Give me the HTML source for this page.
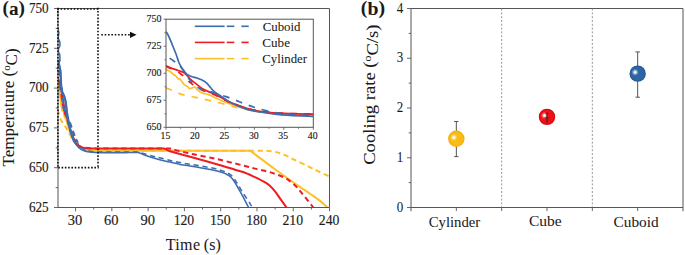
<!DOCTYPE html>
<html><head><meta charset="utf-8"><style>
html,body{margin:0;padding:0;background:#fff;}
svg{display:block;}
text{font-family:"Liberation Serif",serif;fill:#1a1a1a;stroke:#1a1a1a;stroke-width:0.05px;} .hv{stroke-width:0.15px;} .hv2{stroke-width:0.15px;}
</style></head><body>
<svg width="685" height="255" viewBox="0 0 685 255">
<defs><radialGradient id="gy" cx="0.5" cy="0.5" r="0.5"><stop offset="0" stop-color="#fbbc16"/><stop offset="0.75" stop-color="#fbbc16"/><stop offset="1" stop-color="#f2aa00"/></radialGradient><radialGradient id="gr" cx="0.5" cy="0.5" r="0.5"><stop offset="0" stop-color="#ee1118"/><stop offset="0.75" stop-color="#ee1118"/><stop offset="1" stop-color="#d4000c"/></radialGradient><radialGradient id="gb" cx="0.5" cy="0.5" r="0.5"><stop offset="0" stop-color="#2d66a4"/><stop offset="0.75" stop-color="#2d66a4"/><stop offset="1" stop-color="#235890"/></radialGradient><radialGradient id="hl" cx="0.5" cy="0.5" r="0.5"><stop offset="0" stop-color="#fff" stop-opacity="1"/><stop offset="0.3" stop-color="#fff" stop-opacity="0.85"/><stop offset="0.65" stop-color="#fff" stop-opacity="0.3"/><stop offset="1" stop-color="#fff" stop-opacity="0"/></radialGradient></defs>
<rect x="0" y="0" width="685" height="255" fill="#fff"/>
<clipPath id="cm"><rect x="58.0" y="8.5" width="271.5" height="199.0"/></clipPath>
<clipPath id="csteep"><rect x="58" y="60" width="40" height="82"/></clipPath>
<g clip-path="url(#cm)" fill="none" stroke-linejoin="round">
<path d="M57.36,109.68 C57.56,110.24 58.14,111.71 58.59,113.06 C59.04,114.41 59.54,116.43 60.05,117.78 C60.56,119.13 61.12,120.23 61.65,121.16 C62.18,122.10 62.76,122.71 63.23,123.37 C63.70,124.03 63.91,124.30 64.44,125.14 C64.97,125.97 65.76,127.25 66.43,128.38 C67.11,129.51 67.70,130.46 68.49,131.91 C69.27,133.36 70.30,135.55 71.15,137.07 C72.01,138.59 72.69,139.82 73.62,141.04 C74.54,142.27 75.50,143.30 76.70,144.43 C77.89,145.56 78.98,146.81 80.80,147.82 C82.63,148.82 85.16,149.99 87.64,150.47 C90.11,150.95 92.64,150.66 95.64,150.70 C98.64,150.74 102.30,150.70 105.64,150.70 C108.97,150.70 112.30,150.70 115.64,150.70 C118.97,150.70 122.30,150.70 125.64,150.70 C128.97,150.70 132.30,150.70 135.64,150.70 C138.97,150.70 142.30,150.70 145.64,150.70 C148.97,150.70 152.30,150.70 155.64,150.70 C158.97,150.70 162.30,150.70 165.64,150.70 C168.97,150.70 172.30,150.70 175.64,150.70 C178.97,150.70 182.30,150.70 185.64,150.70 C188.97,150.70 192.30,150.70 195.64,150.70 C198.97,150.70 202.30,150.70 205.64,150.70 C208.97,150.70 212.30,150.70 215.64,150.70 C218.97,150.70 222.30,150.70 225.64,150.70 C228.97,150.70 232.30,150.70 235.64,150.70 C238.97,150.70 241.63,150.70 245.64,150.70 C249.65,150.70 255.77,150.66 259.70,150.70 C263.63,150.74 266.25,150.67 269.20,150.95 C272.15,151.23 274.67,151.68 277.40,152.40 C280.13,153.12 282.67,154.03 285.60,155.30 C288.53,156.57 291.07,158.07 295.00,160.00 C298.93,161.93 305.28,165.00 309.20,166.90 C313.12,168.80 315.12,169.78 318.50,171.40 C321.88,173.02 326.58,175.12 329.50,176.60 C332.42,178.08 334.92,179.68 336.00,180.30" stroke="#fdc02a" stroke-width="2.0" stroke-dasharray="5.2,3.7" stroke-dashoffset="8.81"/>
<path d="M57.36,81.55 C57.43,81.94 57.63,83.07 57.81,83.90 C57.99,84.74 58.24,85.55 58.43,86.55 C58.61,87.56 58.78,89.06 58.94,89.94 C59.10,90.82 59.25,91.14 59.37,91.86 C59.49,92.57 59.56,93.40 59.66,94.21 C59.76,95.02 59.86,96.35 59.97,96.72 C60.07,97.08 60.15,95.81 60.27,96.42 C60.39,97.03 60.55,99.02 60.68,100.40 C60.82,101.77 60.96,103.64 61.10,104.67 C61.23,105.70 61.37,105.99 61.51,106.58 C61.64,107.17 61.80,107.52 61.92,108.20 C62.04,108.89 62.10,110.41 62.22,110.71 C62.34,111.00 62.50,110.26 62.63,109.97 C62.77,109.68 62.93,109.18 63.05,108.94 C63.16,108.69 63.23,108.03 63.35,108.50 C63.47,108.96 63.63,110.73 63.76,111.74 C63.90,112.74 64.04,113.73 64.17,114.54 C64.31,115.35 64.42,116.06 64.58,116.60 C64.75,117.14 64.90,117.28 65.16,117.78 C65.42,118.27 65.82,118.78 66.12,119.54 C66.43,120.30 66.52,120.84 66.97,122.34 C67.41,123.84 68.19,126.64 68.79,128.53 C69.40,130.42 69.97,132.04 70.60,133.68 C71.23,135.32 71.92,137.02 72.59,138.39 C73.26,139.77 73.79,140.72 74.64,141.93 C75.50,143.13 76.70,144.60 77.72,145.61 C78.75,146.62 79.78,147.30 80.80,147.97 C81.83,148.63 82.74,149.17 83.88,149.59 C85.02,150.00 85.68,150.28 87.64,150.47 C89.60,150.66 92.64,150.66 95.64,150.70 C98.64,150.74 102.30,150.70 105.64,150.70 C108.97,150.70 112.30,150.70 115.64,150.70 C118.97,150.70 122.30,150.70 125.64,150.70 C128.97,150.70 132.30,150.70 135.64,150.70 C138.97,150.70 142.30,150.70 145.64,150.70 C148.97,150.70 152.30,150.70 155.64,150.70 C158.97,150.70 162.30,150.70 165.64,150.70 C168.97,150.70 172.30,150.70 175.64,150.70 C178.97,150.70 182.30,150.70 185.64,150.70 C188.97,150.70 192.30,150.70 195.64,150.70 C198.97,150.70 202.30,150.70 205.64,150.70 C208.97,150.70 212.30,150.70 215.64,150.70 C218.97,150.70 221.58,150.70 225.64,150.70 C229.70,150.70 235.89,150.70 240.00,150.70 C244.11,150.70 248.58,150.70 250.30,150.70 C252.25,152.18 257.88,156.52 262.00,159.60 C266.12,162.68 269.50,165.22 275.00,169.20 C280.50,173.18 289.05,179.33 295.00,183.50 C300.95,187.67 306.52,191.30 310.70,194.20 C314.88,197.10 317.32,198.68 320.10,200.90 C322.88,203.12 325.58,205.85 327.40,207.50 C329.22,209.15 330.40,210.25 331.00,210.80" stroke="#fdc02a" stroke-width="2.0"/>
<path d="M57.36,77.86 C57.56,78.48 58.19,80.27 58.59,81.55 C58.99,82.82 59.45,84.20 59.76,85.52 C60.08,86.85 60.27,88.35 60.48,89.50 C60.69,90.65 60.71,90.43 61.01,92.44 C61.32,94.46 61.94,99.27 62.31,101.58 C62.68,103.88 62.80,104.32 63.23,106.29 C63.66,108.25 64.43,111.74 64.91,113.36 C65.40,114.98 65.67,114.76 66.12,116.01 C66.58,117.26 66.93,118.32 67.66,120.87 C68.40,123.42 69.37,128.01 70.54,131.32 C71.70,134.64 73.27,138.39 74.64,140.75 C76.01,143.11 77.38,144.36 78.75,145.46 C80.12,146.57 81.37,146.96 82.85,147.38 C84.34,147.79 85.51,147.76 87.64,147.97 C89.77,148.17 92.64,148.49 95.64,148.60 C98.64,148.71 102.30,148.60 105.64,148.60 C108.97,148.60 112.30,148.60 115.64,148.60 C118.97,148.60 122.30,148.60 125.64,148.60 C128.97,148.60 132.30,148.60 135.64,148.60 C138.97,148.60 142.30,148.60 145.64,148.60 C148.97,148.60 151.58,148.60 155.64,148.60 C159.70,148.60 166.77,148.37 170.00,148.60 C173.23,148.83 172.50,149.37 175.00,150.00 C177.50,150.63 181.67,151.63 185.00,152.40 C188.33,153.17 190.00,153.57 195.00,154.60 C200.00,155.63 208.33,157.12 215.00,158.60 C221.67,160.08 229.70,162.18 235.00,163.50 C240.30,164.82 243.47,165.65 246.80,166.50 C250.13,167.35 252.00,167.88 255.00,168.60 C258.00,169.32 261.53,169.95 264.80,170.80 C268.07,171.65 271.33,172.57 274.60,173.70 C277.87,174.83 281.78,176.32 284.40,177.60 C287.02,178.88 288.33,179.92 290.30,181.40 C292.27,182.88 294.42,184.70 296.20,186.50 C297.98,188.30 299.20,190.03 301.00,192.20 C302.80,194.37 304.93,196.95 307.00,199.50 C309.07,202.05 311.87,205.58 313.40,207.50 C314.93,209.42 315.73,210.42 316.20,211.00" stroke="#ee1d23" stroke-width="2.0" stroke-dasharray="5.2,3.7" stroke-dashoffset="0.87"/>
<path d="M57.36,76.83 C57.56,77.47 58.17,79.46 58.59,80.66 C59.01,81.87 59.48,82.97 59.88,84.05 C60.29,85.13 60.73,86.04 61.01,87.14 C61.30,88.25 61.36,88.96 61.61,90.68 C61.86,92.40 62.16,95.14 62.51,97.45 C62.86,99.76 63.32,102.26 63.72,104.52 C64.12,106.78 64.51,109.23 64.91,111.00 C65.31,112.77 65.68,113.70 66.12,115.12 C66.57,116.55 67.14,118.02 67.58,119.54 C68.03,121.06 68.29,122.34 68.79,124.26 C69.30,126.17 69.94,128.97 70.60,131.03 C71.26,133.09 71.93,134.61 72.78,136.63 C73.62,138.64 74.67,141.53 75.67,143.11 C76.67,144.68 77.55,145.29 78.75,146.05 C79.95,146.81 81.37,147.28 82.85,147.67 C84.34,148.06 85.51,148.27 87.64,148.41 C89.77,148.55 92.64,148.48 95.64,148.50 C98.64,148.52 102.30,148.50 105.64,148.50 C108.97,148.50 112.30,148.50 115.64,148.50 C118.97,148.50 122.30,148.50 125.64,148.50 C128.97,148.50 132.30,148.50 135.64,148.50 C138.97,148.50 142.30,148.50 145.64,148.50 C148.97,148.50 152.66,148.50 155.64,148.50 C158.61,148.50 161.69,148.32 163.50,148.50 C165.31,148.68 165.52,149.18 166.50,149.60 C167.48,150.02 167.93,150.47 169.40,151.00 C170.87,151.53 170.20,151.38 175.30,152.80 C180.40,154.22 192.22,157.35 200.00,159.50 C207.78,161.65 216.17,164.00 222.00,165.70 C227.83,167.40 231.47,168.65 235.00,169.70 C238.53,170.75 240.08,170.85 243.20,172.00 C246.32,173.15 250.43,175.08 253.70,176.60 C256.97,178.12 260.15,179.62 262.80,181.10 C265.45,182.58 267.43,183.62 269.60,185.50 C271.77,187.38 273.87,189.95 275.80,192.40 C277.73,194.85 279.40,197.68 281.20,200.20 C283.00,202.72 285.27,205.70 286.60,207.50 C287.93,209.30 288.77,210.42 289.20,211.00" stroke="#ee1d23" stroke-width="2.0"/>
<path d="M57.36,61.96 C57.55,62.92 58.12,65.74 58.51,67.70 C58.90,69.67 59.41,71.97 59.72,73.74 C60.03,75.51 60.16,76.66 60.38,78.31 C60.59,79.95 60.79,81.67 60.99,83.61 C61.20,85.55 61.40,87.58 61.61,89.94 C61.82,92.30 61.97,95.02 62.27,97.75 C62.56,100.47 62.95,103.98 63.35,106.29 C63.76,108.60 64.23,110.24 64.69,111.59 C65.15,112.94 65.64,113.38 66.12,114.39 C66.61,115.39 67.19,116.72 67.58,117.63 C67.98,118.54 68.13,119.03 68.49,119.84 C68.84,120.65 69.27,121.41 69.72,122.49 C70.16,123.57 70.67,124.99 71.15,126.32 C71.63,127.64 72.11,129.07 72.59,130.44 C73.07,131.81 73.55,133.29 74.03,134.56 C74.51,135.84 74.95,136.92 75.46,138.10 C75.98,139.28 76.39,140.33 77.11,141.63 C77.83,142.93 78.82,144.75 79.78,145.90 C80.73,147.06 81.54,147.79 82.85,148.55 C84.16,149.32 85.51,149.90 87.64,150.47 C89.77,151.04 92.64,151.74 95.64,152.00 C98.64,152.26 102.30,152.00 105.64,152.00 C108.97,152.00 112.30,152.00 115.64,152.00 C118.97,152.00 121.98,152.00 125.64,152.00 C129.30,152.00 135.04,151.85 137.60,152.00 C140.16,152.15 139.62,152.53 141.00,152.90 C142.38,153.27 143.52,153.55 145.90,154.20 C148.28,154.85 151.78,155.90 155.30,156.80 C158.82,157.70 162.88,158.63 167.00,159.60 C171.12,160.57 175.33,161.70 180.00,162.60 C184.67,163.50 189.17,164.00 195.00,165.00 C200.83,166.00 210.50,167.63 215.00,168.60 C219.50,169.57 220.00,170.13 222.00,170.80 C224.00,171.47 225.50,171.87 227.00,172.60 C228.50,173.33 229.75,174.10 231.00,175.20 C232.25,176.30 233.33,177.63 234.50,179.20 C235.67,180.77 236.55,182.27 238.00,184.60 C239.45,186.93 241.17,190.00 243.20,193.20 C245.23,196.40 248.73,201.42 250.20,203.80 C251.67,206.18 251.43,206.30 252.00,207.50 C252.57,208.70 253.33,210.42 253.60,211.00" stroke="#3b6db0" stroke-width="1.55" stroke-dasharray="5.2,3.7" stroke-dashoffset="0.00"/>
<path d="M57.36,61.96 C57.55,62.92 58.12,65.74 58.51,67.70 C58.90,69.67 59.41,71.97 59.72,73.74 C60.03,75.51 60.16,76.66 60.38,78.31 C60.59,79.95 60.79,81.67 60.99,83.61 C61.20,85.55 61.40,87.58 61.61,89.94 C61.82,92.30 61.97,95.02 62.27,97.75 C62.56,100.47 62.95,103.98 63.35,106.29 C63.76,108.60 64.23,110.24 64.69,111.59 C65.15,112.94 65.64,113.38 66.12,114.39 C66.61,115.39 67.19,116.72 67.58,117.63 C67.98,118.54 68.13,119.03 68.49,119.84 C68.84,120.65 69.27,121.41 69.72,122.49 C70.16,123.57 70.67,124.99 71.15,126.32 C71.63,127.64 72.11,129.07 72.59,130.44 C73.07,131.81 73.55,133.29 74.03,134.56 C74.51,135.84 74.95,136.92 75.46,138.10 C75.98,139.28 76.39,140.33 77.11,141.63 C77.83,142.93 78.82,144.75 79.78,145.90 C80.73,147.06 81.54,147.79 82.85,148.55 C84.16,149.32 85.51,149.90 87.64,150.47 C89.77,151.04 92.64,151.74 95.64,152.00 C98.64,152.26 102.30,152.00 105.64,152.00 C108.97,152.00 112.30,152.00 115.64,152.00 C118.97,152.00 121.98,152.00 125.64,152.00 C129.30,152.00 135.04,151.85 137.60,152.00 C140.16,152.15 139.62,152.53 141.00,152.90 C142.38,153.27 143.52,153.55 145.90,154.20 C148.28,154.85 151.78,155.90 155.30,156.80 C158.82,157.70 162.88,158.63 167.00,159.60 C171.12,160.57 175.33,161.70 180.00,162.60 C184.67,163.50 189.17,164.00 195.00,165.00 C200.83,166.00 210.50,167.63 215.00,168.60 C219.50,169.57 220.00,170.13 222.00,170.80 C224.00,171.47 225.50,171.87 227.00,172.60 C228.50,173.33 229.75,174.10 231.00,175.20 C232.25,176.30 233.33,177.63 234.50,179.20 C235.67,180.77 236.55,182.27 238.00,184.60 C239.45,186.93 241.17,190.00 243.20,193.20 C245.23,196.40 248.73,201.42 250.20,203.80 C251.67,206.18 251.43,206.30 252.00,207.50 C252.57,208.70 253.33,210.42 253.60,211.00" stroke="#3b6db0" stroke-width="2.3" clip-path="url(#csteep)" stroke-dasharray="5.2,3.7" stroke-dashoffset="0.00"/>
<path d="M57.90,27.50 C57.97,28.00 58.13,29.58 58.30,30.50 C58.47,31.42 58.88,32.08 58.90,33.00 C58.92,33.92 58.48,35.00 58.40,36.00 C58.32,37.00 58.18,38.08 58.40,39.00 C58.62,39.92 59.47,40.33 59.70,41.50 C59.93,42.67 60.00,44.75 59.80,46.00 C59.60,47.25 58.73,48.00 58.50,49.00 C58.27,50.00 58.20,51.08 58.40,52.00 C58.60,52.92 59.47,53.25 59.70,54.50 C59.93,55.75 59.95,58.17 59.80,59.50 C59.65,60.83 58.87,61.42 58.80,62.50 C58.73,63.58 59.13,64.58 59.40,66.00 C59.67,67.42 60.20,69.33 60.40,71.00 C60.60,72.67 60.50,74.33 60.60,76.00 C60.70,77.67 60.96,79.88 61.00,81.00 C61.04,82.12 60.78,81.65 60.85,82.72 C60.92,83.80 61.21,86.04 61.40,87.44 C61.60,88.84 61.79,90.14 62.02,91.12 C62.24,92.10 62.47,92.67 62.76,93.33 C63.04,93.99 63.40,94.36 63.72,95.10 C64.04,95.83 64.37,96.59 64.69,97.75 C65.01,98.90 65.37,100.35 65.65,102.02 C65.93,103.69 66.13,105.82 66.37,107.76 C66.61,109.70 66.81,111.76 67.09,113.65 C67.37,115.54 67.74,117.38 68.07,119.10 C68.41,120.82 68.76,122.32 69.10,123.96 C69.44,125.61 69.70,127.15 70.13,128.97 C70.56,130.78 71.00,132.75 71.69,134.86 C72.37,136.97 73.40,139.91 74.23,141.63 C75.07,143.35 75.77,144.04 76.70,145.17 C77.62,146.30 78.75,147.57 79.78,148.41 C80.80,149.24 81.54,149.63 82.85,150.17 C84.16,150.71 85.51,151.24 87.64,151.65 C89.77,152.05 92.64,152.44 95.64,152.60 C98.64,152.76 102.30,152.60 105.64,152.60 C108.97,152.60 112.30,152.60 115.64,152.60 C118.97,152.60 121.98,152.60 125.64,152.60 C129.30,152.60 135.04,152.43 137.60,152.60 C140.16,152.77 139.62,153.12 141.00,153.60 C142.38,154.08 143.52,154.68 145.90,155.50 C148.28,156.32 151.78,157.50 155.30,158.50 C158.82,159.50 162.88,160.52 167.00,161.50 C171.12,162.48 175.33,163.52 180.00,164.40 C184.67,165.28 189.17,165.78 195.00,166.80 C200.83,167.82 210.50,169.55 215.00,170.50 C219.50,171.45 220.08,171.88 222.00,172.50 C223.92,173.12 225.08,173.48 226.50,174.20 C227.92,174.92 229.25,175.67 230.50,176.80 C231.75,177.93 232.92,179.47 234.00,181.00 C235.08,182.53 235.92,184.13 237.00,186.00 C238.08,187.87 239.18,189.82 240.50,192.20 C241.82,194.58 243.55,197.75 244.90,200.30 C246.25,202.85 247.72,205.72 248.60,207.50 C249.48,209.28 249.93,210.42 250.20,211.00" stroke="#3b6db0" stroke-width="1.55"/>
<path d="M57.90,27.50 C57.97,28.00 58.13,29.58 58.30,30.50 C58.47,31.42 58.88,32.08 58.90,33.00 C58.92,33.92 58.48,35.00 58.40,36.00 C58.32,37.00 58.18,38.08 58.40,39.00 C58.62,39.92 59.47,40.33 59.70,41.50 C59.93,42.67 60.00,44.75 59.80,46.00 C59.60,47.25 58.73,48.00 58.50,49.00 C58.27,50.00 58.20,51.08 58.40,52.00 C58.60,52.92 59.47,53.25 59.70,54.50 C59.93,55.75 59.95,58.17 59.80,59.50 C59.65,60.83 58.87,61.42 58.80,62.50 C58.73,63.58 59.13,64.58 59.40,66.00 C59.67,67.42 60.20,69.33 60.40,71.00 C60.60,72.67 60.50,74.33 60.60,76.00 C60.70,77.67 60.96,79.88 61.00,81.00 C61.04,82.12 60.78,81.65 60.85,82.72 C60.92,83.80 61.21,86.04 61.40,87.44 C61.60,88.84 61.79,90.14 62.02,91.12 C62.24,92.10 62.47,92.67 62.76,93.33 C63.04,93.99 63.40,94.36 63.72,95.10 C64.04,95.83 64.37,96.59 64.69,97.75 C65.01,98.90 65.37,100.35 65.65,102.02 C65.93,103.69 66.13,105.82 66.37,107.76 C66.61,109.70 66.81,111.76 67.09,113.65 C67.37,115.54 67.74,117.38 68.07,119.10 C68.41,120.82 68.76,122.32 69.10,123.96 C69.44,125.61 69.70,127.15 70.13,128.97 C70.56,130.78 71.00,132.75 71.69,134.86 C72.37,136.97 73.40,139.91 74.23,141.63 C75.07,143.35 75.77,144.04 76.70,145.17 C77.62,146.30 78.75,147.57 79.78,148.41 C80.80,149.24 81.54,149.63 82.85,150.17 C84.16,150.71 85.51,151.24 87.64,151.65 C89.77,152.05 92.64,152.44 95.64,152.60 C98.64,152.76 102.30,152.60 105.64,152.60 C108.97,152.60 112.30,152.60 115.64,152.60 C118.97,152.60 121.98,152.60 125.64,152.60 C129.30,152.60 135.04,152.43 137.60,152.60 C140.16,152.77 139.62,153.12 141.00,153.60 C142.38,154.08 143.52,154.68 145.90,155.50 C148.28,156.32 151.78,157.50 155.30,158.50 C158.82,159.50 162.88,160.52 167.00,161.50 C171.12,162.48 175.33,163.52 180.00,164.40 C184.67,165.28 189.17,165.78 195.00,166.80 C200.83,167.82 210.50,169.55 215.00,170.50 C219.50,171.45 220.08,171.88 222.00,172.50 C223.92,173.12 225.08,173.48 226.50,174.20 C227.92,174.92 229.25,175.67 230.50,176.80 C231.75,177.93 232.92,179.47 234.00,181.00 C235.08,182.53 235.92,184.13 237.00,186.00 C238.08,187.87 239.18,189.82 240.50,192.20 C241.82,194.58 243.55,197.75 244.90,200.30 C246.25,202.85 247.72,205.72 248.60,207.50 C249.48,209.28 249.93,210.42 250.20,211.00" stroke="#3b6db0" stroke-width="2.3" clip-path="url(#csteep)"/>
</g>
<line x1="58.0" y1="8.5" x2="329.5" y2="8.5" stroke="#555" stroke-width="1"/>
<line x1="329.5" y1="8.5" x2="329.5" y2="207.5" stroke="#555" stroke-width="1"/>
<line x1="58.0" y1="207.5" x2="329.5" y2="207.5" stroke="#555" stroke-width="1"/>
<line x1="58.0" y1="8.5" x2="58.0" y2="207.5" stroke="#555" stroke-width="1"/>
<line x1="75.54" y1="207.5" x2="75.54" y2="211.3" stroke="#555" stroke-width="0.9"/>
<line x1="111.83" y1="207.5" x2="111.83" y2="211.3" stroke="#555" stroke-width="0.9"/>
<line x1="148.11" y1="207.5" x2="148.11" y2="211.3" stroke="#555" stroke-width="0.9"/>
<line x1="184.40" y1="207.5" x2="184.40" y2="211.3" stroke="#555" stroke-width="0.9"/>
<line x1="220.68" y1="207.5" x2="220.68" y2="211.3" stroke="#555" stroke-width="0.9"/>
<line x1="256.97" y1="207.5" x2="256.97" y2="211.3" stroke="#555" stroke-width="0.9"/>
<line x1="293.25" y1="207.5" x2="293.25" y2="211.3" stroke="#555" stroke-width="0.9"/>
<line x1="329.54" y1="207.5" x2="329.54" y2="211.3" stroke="#555" stroke-width="0.9"/>
<line x1="93.69" y1="207.5" x2="93.69" y2="209.5" stroke="#555" stroke-width="0.9"/>
<line x1="129.97" y1="207.5" x2="129.97" y2="209.5" stroke="#555" stroke-width="0.9"/>
<line x1="166.25" y1="207.5" x2="166.25" y2="209.5" stroke="#555" stroke-width="0.9"/>
<line x1="202.54" y1="207.5" x2="202.54" y2="209.5" stroke="#555" stroke-width="0.9"/>
<line x1="238.83" y1="207.5" x2="238.83" y2="209.5" stroke="#555" stroke-width="0.9"/>
<line x1="275.11" y1="207.5" x2="275.11" y2="209.5" stroke="#555" stroke-width="0.9"/>
<line x1="311.39" y1="207.5" x2="311.39" y2="209.5" stroke="#555" stroke-width="0.9"/>
<line x1="54.0" y1="207.50" x2="58.0" y2="207.50" stroke="#555" stroke-width="0.9"/>
<line x1="54.0" y1="167.70" x2="58.0" y2="167.70" stroke="#555" stroke-width="0.9"/>
<line x1="54.0" y1="127.90" x2="58.0" y2="127.90" stroke="#555" stroke-width="0.9"/>
<line x1="54.0" y1="88.10" x2="58.0" y2="88.10" stroke="#555" stroke-width="0.9"/>
<line x1="54.0" y1="48.30" x2="58.0" y2="48.30" stroke="#555" stroke-width="0.9"/>
<line x1="54.0" y1="8.50" x2="58.0" y2="8.50" stroke="#555" stroke-width="0.9"/>
<line x1="55.7" y1="187.60" x2="58.0" y2="187.60" stroke="#555" stroke-width="0.9"/>
<line x1="55.7" y1="147.80" x2="58.0" y2="147.80" stroke="#555" stroke-width="0.9"/>
<line x1="55.7" y1="108.00" x2="58.0" y2="108.00" stroke="#555" stroke-width="0.9"/>
<line x1="55.7" y1="68.20" x2="58.0" y2="68.20" stroke="#555" stroke-width="0.9"/>
<line x1="55.7" y1="28.40" x2="58.0" y2="28.40" stroke="#555" stroke-width="0.9"/>
<text x="28.90" y="211.80" font-size="14.2" textLength="19.80" lengthAdjust="spacingAndGlyphs" class="hv">625</text>
<text x="28.90" y="172.00" font-size="14.2" textLength="19.80" lengthAdjust="spacingAndGlyphs" class="hv">650</text>
<text x="28.90" y="132.20" font-size="14.2" textLength="19.80" lengthAdjust="spacingAndGlyphs" class="hv">675</text>
<text x="28.90" y="92.40" font-size="14.2" textLength="19.80" lengthAdjust="spacingAndGlyphs" class="hv">700</text>
<text x="28.90" y="52.60" font-size="14.2" textLength="19.80" lengthAdjust="spacingAndGlyphs" class="hv">725</text>
<text x="28.90" y="12.80" font-size="14.2" textLength="19.80" lengthAdjust="spacingAndGlyphs" class="hv">750</text>
<text x="67.84" y="225.00" font-size="14.2" textLength="14.50" lengthAdjust="spacingAndGlyphs" class="hv">30</text>
<text x="104.13" y="225.00" font-size="14.2" textLength="14.50" lengthAdjust="spacingAndGlyphs" class="hv">60</text>
<text x="140.41" y="225.00" font-size="14.2" textLength="14.50" lengthAdjust="spacingAndGlyphs" class="hv">90</text>
<text x="173.65" y="225.00" font-size="14.2" textLength="20.60" lengthAdjust="spacingAndGlyphs" class="hv">120</text>
<text x="209.93" y="225.00" font-size="14.2" textLength="20.60" lengthAdjust="spacingAndGlyphs" class="hv">150</text>
<text x="246.22" y="225.00" font-size="14.2" textLength="20.60" lengthAdjust="spacingAndGlyphs" class="hv">180</text>
<text x="282.50" y="225.00" font-size="14.2" textLength="20.60" lengthAdjust="spacingAndGlyphs" class="hv">210</text>
<text x="318.79" y="225.00" font-size="14.2" textLength="20.60" lengthAdjust="spacingAndGlyphs" class="hv">240</text>
<text x="165.8" y="250.3" font-size="16">T<tspan dx="0.3">i</tspan><tspan dx="0.3">m</tspan><tspan dx="0.4">e</tspan><tspan dx="-0.2"> (s)</tspan></text>
<text transform="translate(14.1,166.5) rotate(-90)" font-size="17.6" textLength="118.1" lengthAdjust="spacingAndGlyphs">Temperature (<tspan font-size="0.64em" dy="-0.38em">o</tspan><tspan dy="0.38em">C)</tspan></text>
<text x="2.5" y="13.5" font-size="18" font-weight="bold" textLength="22.4" lengthAdjust="spacingAndGlyphs">(<tspan dy="1.4">a</tspan><tspan dy="-1.4">)</tspan></text>
<line x1="411.0" y1="8.5" x2="683.0" y2="8.5" stroke="#555" stroke-width="1"/>
<line x1="411.0" y1="207.5" x2="683.0" y2="207.5" stroke="#555" stroke-width="1"/>
<line x1="411.0" y1="8.5" x2="411.0" y2="211.3" stroke="#555" stroke-width="1"/>
<line x1="683.0" y1="8.5" x2="683.0" y2="211.3" stroke="#555" stroke-width="1"/>
<line x1="407.0" y1="207.50" x2="411.0" y2="207.50" stroke="#555" stroke-width="0.9"/>
<text x="396.80" y="211.50" font-size="15" textLength="6.50" lengthAdjust="spacingAndGlyphs">0</text>
<line x1="407.0" y1="157.75" x2="411.0" y2="157.75" stroke="#555" stroke-width="0.9"/>
<text x="396.80" y="161.75" font-size="15" textLength="6.50" lengthAdjust="spacingAndGlyphs">1</text>
<line x1="407.0" y1="108.00" x2="411.0" y2="108.00" stroke="#555" stroke-width="0.9"/>
<text x="396.80" y="112.00" font-size="15" textLength="6.50" lengthAdjust="spacingAndGlyphs">2</text>
<line x1="407.0" y1="58.25" x2="411.0" y2="58.25" stroke="#555" stroke-width="0.9"/>
<text x="396.80" y="62.25" font-size="15" textLength="6.50" lengthAdjust="spacingAndGlyphs">3</text>
<line x1="407.0" y1="8.50" x2="411.0" y2="8.50" stroke="#555" stroke-width="0.9"/>
<text x="396.80" y="12.50" font-size="15" textLength="6.50" lengthAdjust="spacingAndGlyphs">4</text>
<line x1="408.7" y1="182.62" x2="411.0" y2="182.62" stroke="#555" stroke-width="0.9"/>
<line x1="408.7" y1="132.88" x2="411.0" y2="132.88" stroke="#555" stroke-width="0.9"/>
<line x1="408.7" y1="83.12" x2="411.0" y2="83.12" stroke="#555" stroke-width="0.9"/>
<line x1="408.7" y1="33.38" x2="411.0" y2="33.38" stroke="#555" stroke-width="0.9"/>
<line x1="456.33" y1="207.5" x2="456.33" y2="211.0" stroke="#555" stroke-width="0.9"/>
<text x="428.80" y="226.80" font-size="15.5" textLength="51.45" lengthAdjust="spacingAndGlyphs">Cylinder</text>
<line x1="547.00" y1="207.5" x2="547.00" y2="211.0" stroke="#555" stroke-width="0.9"/>
<text x="529.00" y="226.20" font-size="15.5" textLength="32.72" lengthAdjust="spacingAndGlyphs">Cube</text>
<line x1="637.67" y1="207.5" x2="637.67" y2="211.0" stroke="#555" stroke-width="0.9"/>
<text x="613.60" y="226.60" font-size="15.5" textLength="45.06" lengthAdjust="spacingAndGlyphs">Cuboid</text>
<line x1="501.67" y1="8.6" x2="501.67" y2="207.5" stroke="#8a8a8a" stroke-width="0.9" stroke-dasharray="2,1.8"/>
<line x1="501.67" y1="207.5" x2="501.67" y2="211.0" stroke="#555" stroke-width="0.9"/>
<line x1="592.33" y1="8.6" x2="592.33" y2="207.5" stroke="#8a8a8a" stroke-width="0.9" stroke-dasharray="2,1.8"/>
<line x1="592.33" y1="207.5" x2="592.33" y2="211.0" stroke="#555" stroke-width="0.9"/>
<text transform="translate(375.3,164.8) rotate(-90)" font-size="17.6" textLength="140.3" lengthAdjust="spacingAndGlyphs">Cooling rate (<tspan font-size="0.64em" dy="-0.38em">o</tspan><tspan dy="0.38em">C/s)</tspan></text>
<text x="360.8" y="14.1" font-size="18" font-weight="bold" textLength="24.2" lengthAdjust="spacingAndGlyphs">(<tspan dy="0.6">b</tspan><tspan dy="-0.6">)</tspan></text>
<line x1="456.33" y1="121.48" x2="456.33" y2="156.61" stroke="#555" stroke-width="1"/>
<line x1="454.13" y1="121.48" x2="458.53" y2="121.48" stroke="#555" stroke-width="1"/>
<line x1="454.13" y1="156.61" x2="458.53" y2="156.61" stroke="#555" stroke-width="1"/>
<circle cx="456.33" cy="138.80" r="8.2" fill="url(#gy)"/><circle cx="453.83" cy="137.40" r="3.6" fill="url(#hl)"/>
<circle cx="547.00" cy="116.91" r="8.2" fill="url(#gr)"/><circle cx="544.50" cy="115.51" r="3.6" fill="url(#hl)"/>
<line x1="547.00" y1="113.3" x2="547.00" y2="122.8" stroke="#3a2020" stroke-width="1.1"/>
<line x1="545.40" y1="113.3" x2="548.60" y2="113.3" stroke="#3a2020" stroke-width="0.9" opacity="0.8"/>
<line x1="544.40" y1="117.9" x2="549.60" y2="117.9" stroke="#5a2020" stroke-width="1" opacity="0.55"/>
<line x1="637.67" y1="51.93" x2="637.67" y2="97.20" stroke="#555" stroke-width="1"/>
<line x1="635.47" y1="51.93" x2="639.87" y2="51.93" stroke="#555" stroke-width="1"/>
<line x1="635.47" y1="97.20" x2="639.87" y2="97.20" stroke="#555" stroke-width="1"/>
<circle cx="637.67" cy="73.67" r="8.2" fill="url(#gb)"/><circle cx="635.17" cy="72.27" r="3.6" fill="url(#hl)"/>
<rect x="166.0" y="19.2" width="147.30" height="108.10" fill="#fff" stroke="none"/>
<clipPath id="ci"><rect x="166.0" y="19.2" width="147.30" height="108.10"/></clipPath>
<g clip-path="url(#ci)" fill="none" stroke-linejoin="round">
<path d="M165.80,87.90 C166.80,88.28 169.62,89.28 171.80,90.20 C173.98,91.12 176.42,92.48 178.90,93.40 C181.38,94.32 184.12,95.07 186.70,95.70 C189.28,96.33 192.13,96.75 194.40,97.20 C196.67,97.65 197.70,97.83 200.30,98.40 C202.90,98.97 206.72,99.83 210.00,100.60 C213.28,101.37 216.17,102.02 220.00,103.00 C223.83,103.98 228.83,105.47 233.00,106.50 C237.17,107.53 240.50,108.37 245.00,109.20 C249.50,110.03 254.17,110.73 260.00,111.50 C265.83,112.27 271.12,113.12 280.00,113.80 C288.88,114.48 307.75,115.30 313.30,115.60" stroke="#fdc02a" stroke-width="1.7" stroke-dasharray="6.6,7.0" stroke-dashoffset="0.00"/>
<path d="M165.80,68.80 C166.17,69.07 167.13,69.83 168.00,70.40 C168.87,70.97 170.08,71.52 171.00,72.20 C171.92,72.88 172.73,73.90 173.50,74.50 C174.27,75.10 175.02,75.32 175.60,75.80 C176.18,76.28 176.52,76.85 177.00,77.40 C177.48,77.95 178.00,78.85 178.50,79.10 C179.00,79.35 179.42,78.48 180.00,78.90 C180.58,79.32 181.33,80.67 182.00,81.60 C182.67,82.53 183.33,83.80 184.00,84.50 C184.67,85.20 185.33,85.40 186.00,85.80 C186.67,86.20 187.42,86.43 188.00,86.90 C188.58,87.37 188.92,88.40 189.50,88.60 C190.08,88.80 190.83,88.30 191.50,88.10 C192.17,87.90 192.92,87.57 193.50,87.40 C194.08,87.23 194.42,86.78 195.00,87.10 C195.58,87.42 196.33,88.62 197.00,89.30 C197.67,89.98 198.33,90.65 199.00,91.20 C199.67,91.75 200.20,92.23 201.00,92.60 C201.80,92.97 202.55,93.07 203.80,93.40 C205.05,93.73 207.03,94.08 208.50,94.60 C209.97,95.12 210.43,95.48 212.60,96.50 C214.77,97.52 218.55,99.42 221.50,100.70 C224.45,101.98 227.22,103.08 230.30,104.20 C233.38,105.32 236.72,106.47 240.00,107.40 C243.28,108.33 245.83,108.98 250.00,109.80 C254.17,110.62 260.00,111.62 265.00,112.30 C270.00,112.98 275.00,113.45 280.00,113.90 C285.00,114.35 289.45,114.72 295.00,115.00 C300.55,115.28 310.25,115.50 313.30,115.60" stroke="#fdc02a" stroke-width="1.7"/>
<path d="M165.80,66.30 C166.80,66.72 169.85,67.93 171.80,68.80 C173.75,69.67 175.97,70.60 177.50,71.50 C179.03,72.40 179.98,73.42 181.00,74.20 C182.02,74.98 182.12,74.83 183.60,76.20 C185.08,77.57 188.10,80.83 189.90,82.40 C191.70,83.97 192.28,84.27 194.40,85.60 C196.52,86.93 200.25,89.30 202.60,90.40 C204.95,91.50 206.27,91.35 208.50,92.20 C210.73,93.05 212.42,93.77 216.00,95.50 C219.58,97.23 224.33,100.35 230.00,102.60 C235.67,104.85 243.33,107.40 250.00,109.00 C256.67,110.60 263.33,111.45 270.00,112.20 C276.67,112.95 282.78,113.22 290.00,113.50 C297.22,113.78 309.42,113.83 313.30,113.90" stroke="#ee1d23" stroke-width="1.7" stroke-dasharray="6.6,7.0" stroke-dashoffset="0.00"/>
<path d="M165.80,65.60 C166.80,66.03 169.75,67.38 171.80,68.20 C173.85,69.02 176.13,69.77 178.10,70.50 C180.07,71.23 182.20,71.85 183.60,72.60 C185.00,73.35 185.28,73.83 186.50,75.00 C187.72,76.17 189.18,78.03 190.90,79.60 C192.62,81.17 194.85,82.87 196.80,84.40 C198.75,85.93 200.65,87.60 202.60,88.80 C204.55,90.00 206.33,90.63 208.50,91.60 C210.67,92.57 213.43,93.57 215.60,94.60 C217.77,95.63 219.05,96.50 221.50,97.80 C223.95,99.10 227.07,101.00 230.30,102.40 C233.53,103.80 236.78,104.83 240.90,106.20 C245.02,107.57 250.15,109.53 255.00,110.60 C259.85,111.67 264.17,112.08 270.00,112.60 C275.83,113.12 282.78,113.43 290.00,113.70 C297.22,113.97 309.42,114.12 313.30,114.20" stroke="#ee1d23" stroke-width="1.7"/>
<path d="M165.80,55.50 C166.73,56.15 169.48,58.07 171.40,59.40 C173.32,60.73 175.78,62.30 177.30,63.50 C178.82,64.70 179.47,65.48 180.50,66.60 C181.53,67.72 182.50,68.88 183.50,70.20 C184.50,71.52 185.47,72.90 186.50,74.50 C187.53,76.10 188.28,77.95 189.70,79.80 C191.12,81.65 193.03,84.03 195.00,85.60 C196.97,87.17 199.25,88.28 201.50,89.20 C203.75,90.12 206.15,90.42 208.50,91.10 C210.85,91.78 213.68,92.68 215.60,93.30 C217.52,93.92 218.27,94.25 220.00,94.80 C221.73,95.35 223.83,95.87 226.00,96.60 C228.17,97.33 230.67,98.30 233.00,99.20 C235.33,100.10 237.67,101.07 240.00,102.00 C242.33,102.93 244.67,103.93 247.00,104.80 C249.33,105.67 251.50,106.40 254.00,107.20 C256.50,108.00 258.50,108.72 262.00,109.60 C265.50,110.48 270.33,111.72 275.00,112.50 C279.67,113.28 283.62,113.78 290.00,114.30 C296.38,114.82 309.42,115.38 313.30,115.60" stroke="#3b6db0" stroke-width="1.7" stroke-dasharray="6.6,7.0" stroke-dashoffset="8.99"/>
<path d="M165.80,31.50 C166.13,31.98 167.00,32.87 167.80,34.40 C168.60,35.93 169.65,38.47 170.60,40.70 C171.55,42.93 172.55,45.45 173.50,47.80 C174.45,50.15 175.48,52.57 176.30,54.80 C177.12,57.03 177.70,59.40 178.40,61.20 C179.10,63.00 179.77,64.20 180.50,65.60 C181.23,67.00 181.97,68.40 182.80,69.60 C183.63,70.80 184.55,71.85 185.50,72.80 C186.45,73.75 187.40,74.63 188.50,75.30 C189.60,75.97 190.72,76.35 192.10,76.80 C193.48,77.25 195.23,77.50 196.80,78.00 C198.37,78.50 199.93,79.02 201.50,79.80 C203.07,80.58 204.83,81.57 206.20,82.70 C207.57,83.83 208.53,85.28 209.70,86.60 C210.87,87.92 211.82,89.32 213.20,90.60 C214.58,91.88 216.37,93.13 218.00,94.30 C219.63,95.47 221.33,96.48 223.00,97.60 C224.67,98.72 225.90,99.77 228.00,101.00 C230.10,102.23 232.27,103.57 235.60,105.00 C238.93,106.43 243.93,108.43 248.00,109.60 C252.07,110.77 255.50,111.23 260.00,112.00 C264.50,112.77 270.00,113.63 275.00,114.20 C280.00,114.77 283.62,115.03 290.00,115.40 C296.38,115.77 309.42,116.23 313.30,116.40" stroke="#3b6db0" stroke-width="1.7"/>
</g>
<rect x="166.0" y="19.2" width="147.30" height="108.10" fill="none" stroke="#555" stroke-width="1"/>
<line x1="166.00" y1="127.3" x2="166.00" y2="129.8" stroke="#555" stroke-width="0.8"/>
<text x="160.50" y="139.00" font-size="10.8" textLength="9.80" lengthAdjust="spacingAndGlyphs" class="hv2">15</text>
<line x1="195.46" y1="127.3" x2="195.46" y2="129.8" stroke="#555" stroke-width="0.8"/>
<text x="189.96" y="139.00" font-size="10.8" textLength="9.80" lengthAdjust="spacingAndGlyphs" class="hv2">20</text>
<line x1="224.92" y1="127.3" x2="224.92" y2="129.8" stroke="#555" stroke-width="0.8"/>
<text x="219.42" y="139.00" font-size="10.8" textLength="9.80" lengthAdjust="spacingAndGlyphs" class="hv2">25</text>
<line x1="254.38" y1="127.3" x2="254.38" y2="129.8" stroke="#555" stroke-width="0.8"/>
<text x="248.88" y="139.00" font-size="10.8" textLength="9.80" lengthAdjust="spacingAndGlyphs" class="hv2">30</text>
<line x1="283.84" y1="127.3" x2="283.84" y2="129.8" stroke="#555" stroke-width="0.8"/>
<text x="278.34" y="139.00" font-size="10.8" textLength="9.80" lengthAdjust="spacingAndGlyphs" class="hv2">35</text>
<line x1="313.30" y1="127.3" x2="313.30" y2="129.8" stroke="#555" stroke-width="0.8"/>
<text x="307.80" y="139.00" font-size="10.8" textLength="9.80" lengthAdjust="spacingAndGlyphs" class="hv2">40</text>
<line x1="180.73" y1="127.3" x2="180.73" y2="128.8" stroke="#555" stroke-width="0.8"/>
<line x1="210.19" y1="127.3" x2="210.19" y2="128.8" stroke="#555" stroke-width="0.8"/>
<line x1="239.65" y1="127.3" x2="239.65" y2="128.8" stroke="#555" stroke-width="0.8"/>
<line x1="269.11" y1="127.3" x2="269.11" y2="128.8" stroke="#555" stroke-width="0.8"/>
<line x1="298.57" y1="127.3" x2="298.57" y2="128.8" stroke="#555" stroke-width="0.8"/>
<line x1="163.5" y1="127.30" x2="166.0" y2="127.30" stroke="#555" stroke-width="0.8"/>
<text x="146.40" y="130.30" font-size="10.8" textLength="15.00" lengthAdjust="spacingAndGlyphs" class="hv2">650</text>
<line x1="163.5" y1="100.28" x2="166.0" y2="100.28" stroke="#555" stroke-width="0.8"/>
<text x="146.40" y="103.28" font-size="10.8" textLength="15.00" lengthAdjust="spacingAndGlyphs" class="hv2">675</text>
<line x1="163.5" y1="73.25" x2="166.0" y2="73.25" stroke="#555" stroke-width="0.8"/>
<text x="146.40" y="76.25" font-size="10.8" textLength="15.00" lengthAdjust="spacingAndGlyphs" class="hv2">700</text>
<line x1="163.5" y1="46.22" x2="166.0" y2="46.22" stroke="#555" stroke-width="0.8"/>
<text x="146.40" y="49.22" font-size="10.8" textLength="15.00" lengthAdjust="spacingAndGlyphs" class="hv2">725</text>
<line x1="163.5" y1="19.20" x2="166.0" y2="19.20" stroke="#555" stroke-width="0.8"/>
<text x="146.40" y="22.20" font-size="10.8" textLength="15.00" lengthAdjust="spacingAndGlyphs" class="hv2">750</text>
<line x1="164.5" y1="113.79" x2="166.0" y2="113.79" stroke="#555" stroke-width="0.8"/>
<line x1="164.5" y1="86.76" x2="166.0" y2="86.76" stroke="#555" stroke-width="0.8"/>
<line x1="164.5" y1="59.74" x2="166.0" y2="59.74" stroke="#555" stroke-width="0.8"/>
<line x1="164.5" y1="32.71" x2="166.0" y2="32.71" stroke="#555" stroke-width="0.8"/>
<line x1="194.8" y1="26.3" x2="224.6" y2="26.3" stroke="#3b6db0" stroke-width="1.6"/>
<line x1="226.7" y1="26.3" x2="234.3" y2="26.3" stroke="#3b6db0" stroke-width="1.6"/>
<line x1="241.4" y1="26.3" x2="248.7" y2="26.3" stroke="#3b6db0" stroke-width="1.6"/>
<text x="262.70" y="31.00" font-size="13.5" textLength="37.77" lengthAdjust="spacingAndGlyphs">Cuboid</text>
<line x1="194.8" y1="42.4" x2="224.6" y2="42.4" stroke="#ee1d23" stroke-width="1.6"/>
<line x1="226.7" y1="42.4" x2="234.3" y2="42.4" stroke="#ee1d23" stroke-width="1.6"/>
<line x1="241.4" y1="42.4" x2="248.7" y2="42.4" stroke="#ee1d23" stroke-width="1.6"/>
<text x="262.30" y="46.50" font-size="13.5" textLength="27.70" lengthAdjust="spacingAndGlyphs">Cube</text>
<line x1="194.8" y1="58.6" x2="224.6" y2="58.6" stroke="#fdc02a" stroke-width="1.6"/>
<line x1="226.7" y1="58.6" x2="234.3" y2="58.6" stroke="#fdc02a" stroke-width="1.6"/>
<line x1="241.4" y1="58.6" x2="248.7" y2="58.6" stroke="#fdc02a" stroke-width="1.6"/>
<text x="262.30" y="62.70" font-size="13.5" textLength="44.65" lengthAdjust="spacingAndGlyphs">Cylinder</text>
<line x1="57.3" y1="9.0" x2="98.8" y2="9.0" fill="none" stroke="#111" stroke-width="1.6" stroke-dasharray="1.6,1.68"/>
<line x1="57.9" y1="7.8" x2="57.9" y2="168.4" fill="none" stroke="#111" stroke-width="1.6" stroke-dasharray="1.6,1.68"/>
<line x1="98.0" y1="7.7" x2="98.0" y2="168.4" fill="none" stroke="#111" stroke-width="1.6" stroke-dasharray="1.6,1.68"/>
<line x1="58.3" y1="167.6" x2="98.8" y2="167.6" fill="none" stroke="#111" stroke-width="1.6" stroke-dasharray="1.6,1.68"/>
<line x1="101.3" y1="34.8" x2="130" y2="34.8" stroke="#111" stroke-width="1.5" stroke-dasharray="1.6,1.75"/>
<path d="M130,31.7 L136.6,34.8 L130,37.9 Z" fill="#111"/>
</svg>
</body></html>
